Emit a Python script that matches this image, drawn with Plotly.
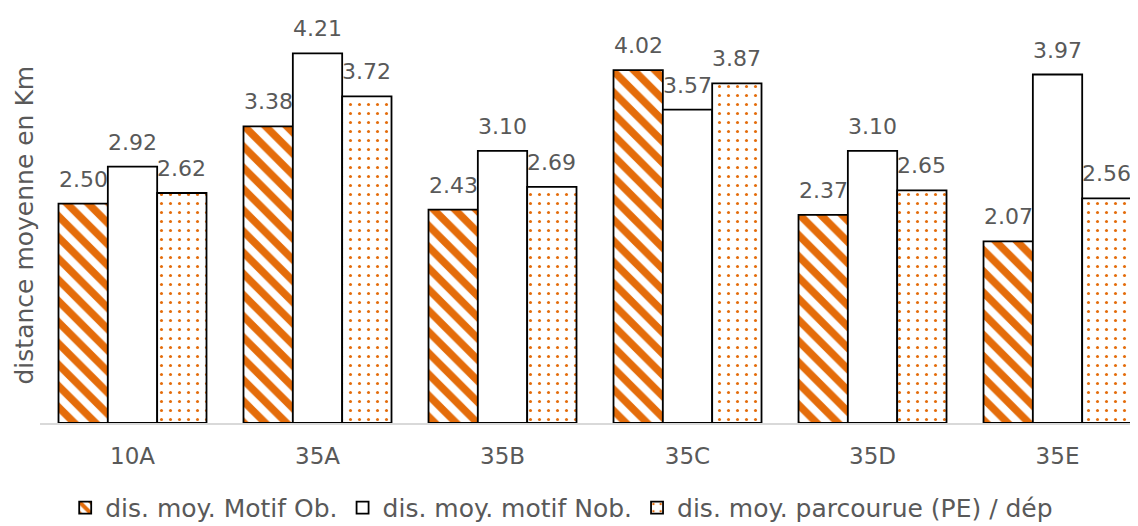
import plotly.graph_objects as go

categories = ["10A", "35A", "35B", "35C", "35D", "35E"]
motif_ob = [2.50, 3.38, 2.43, 4.02, 2.37, 2.07]
motif_nob = [2.92, 4.21, 3.10, 3.57, 3.10, 3.97]
parcourue = [2.62, 3.72, 2.69, 3.87, 2.65, 2.56]
series_names = ["dis. moy. Motif Ob.", "dis. moy. motif Nob.", "dis. moy. parcourue (PE) / dép"]
y_title = "distance moyenne en Km"

ORANGE = "#E46C0A"
GREY = "#595959"
FONT = "DejaVu Sans"

W, H = 1130, 518
ML, MR, MT, MB = 32, 0, 20, 103
X_RANGE = [-0.5, 5.435]
BARGAP = 0.2

fig = go.Figure()
fig.add_trace(go.Bar(
    x=categories, y=motif_ob, name=series_names[0],
    marker=dict(color="white", line=dict(color="black", width=1.8),
                pattern=dict(shape="\\", fgcolor=ORANGE, fgopacity=1, bgcolor="white",
                             size=15, solidity=0.5)),
))
fig.add_trace(go.Bar(
    x=categories, y=motif_nob, name=series_names[1],
    marker=dict(color="white", line=dict(color="black", width=1.8)),
))
fig.add_trace(go.Bar(
    x=categories, y=parcourue, name=series_names[2],
    marker=dict(color="white", line=dict(color="black", width=1.8),
                pattern=dict(shape=".", fgcolor=ORANGE, fgopacity=1, bgcolor="white",
                             size=9, solidity=0.09)),
))

# data labels above each bar
plot_w = W - ML - MR
cat_px = plot_w / (X_RANGE[1] - X_RANGE[0])
bar_px = cat_px * (1 - BARGAP) / 3
for i, vals in enumerate([motif_ob, motif_nob, parcourue]):
    for cat, v in zip(categories, vals):
        fig.add_annotation(x=cat, y=v, xref="x", yref="y", text=f"{v:.2f}",
                           showarrow=False, xanchor="center", yanchor="bottom",
                           xshift=(i - 1) * bar_px, yshift=10,
                           font=dict(family=FONT, size=22, color=GREY))

fig.add_annotation(x=-(ML - 16) / plot_w, y=0.5, xref="paper", yref="paper",
                   text=y_title, textangle=-90, showarrow=False,
                   xanchor="center", yanchor="middle",
                   font=dict(family=FONT, size=25, color=GREY))

fig.update_layout(
    width=W, height=H,
    margin=dict(l=ML, r=MR, t=MT, b=MB, autoexpand=False),
    paper_bgcolor="white", plot_bgcolor="white",
    barmode="group", bargap=BARGAP, bargroupgap=0,
    font=dict(family=FONT, color=GREY, size=23),
    showlegend=True,
    legend=dict(orientation="h", xref="container", yref="container",
                x=0.49, xanchor="center", y=0.035, yanchor="middle",
                font=dict(family=FONT, size=25, color=GREY), itemwidth=30,
                traceorder="normal"),
    xaxis=dict(range=X_RANGE, showline=True, linecolor="#D9D9D9", linewidth=1.5,
               ticks="", ticklabelstandoff=12,
               tickfont=dict(family=FONT, size=23, color=GREY), showgrid=False),
    yaxis=dict(range=[0, 4.5], showticklabels=False, showgrid=False, zeroline=False,
               showline=False, ticks=""),
)

fig.write_html("out.html")
